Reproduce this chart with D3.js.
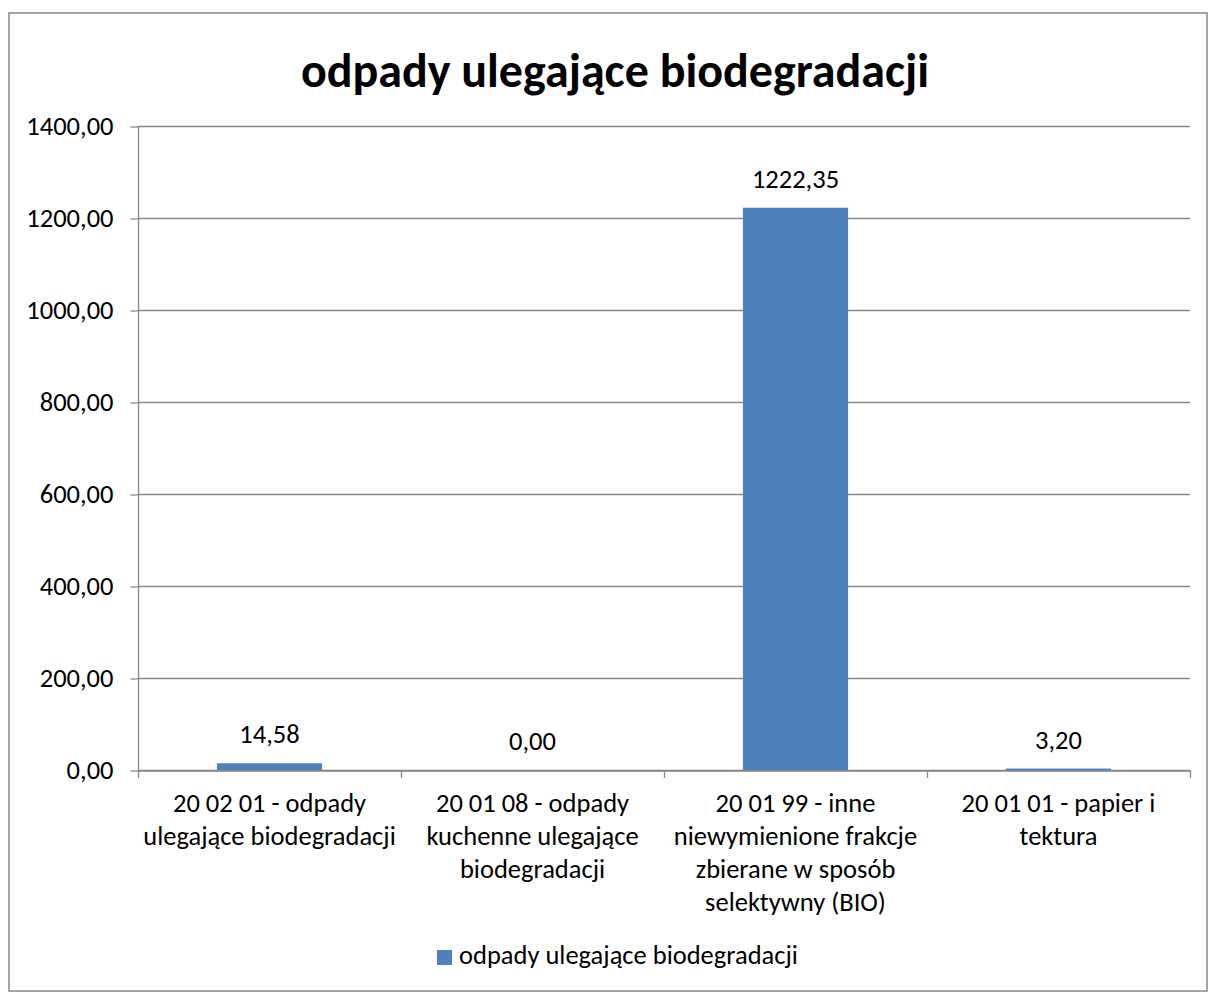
<!DOCTYPE html>
<html>
<head>
<meta charset="utf-8">
<script src="https://cdn.jsdelivr.net/npm/d3@7"></script>
<style>
  html, body { margin: 0; padding: 0; background: #fff; }
  svg { display: block; font-family: Carlito, Calibri, Lato, sans-serif; }
</style>
</head>
<body>
<svg id="chart"></svg>
<script>
/* ---- data ---- */
const title = "odpady ulegające biodegradacji";
const seriesName = "odpady ulegające biodegradacji";
const categories = [
  "20 02 01 - odpady ulegające biodegradacji",
  "20 01 08 - odpady kuchenne ulegające biodegradacji",
  "20 01 99 - inne niewymienione frakcje zbierane w sposób selektywny (BIO)",
  "20 01 01 - papier i tektura"
];
const categoryLines = [
  ["20 02 01 - odpady", "ulegające biodegradacji"],
  ["20 01 08 - odpady", "kuchenne ulegające", "biodegradacji"],
  ["20 01 99 - inne", "niewymienione frakcje", "zbierane w sposób", "selektywny (BIO)"],
  ["20 01 01 - papier i", "tektura"]
];
const values = [14.58, 0.00, 1222.35, 3.20];
const yTicks = [0, 200, 400, 600, 800, 1000, 1200, 1400];

const W = 1208, H = 992;
const margin = { top: 126, right: 18, bottom: 222, left: 138 };
const barColor = "#4F81BD";
const lineColor = "#878787";
const fontSize = 26.5;
const fmt = v => v.toFixed(2).replace(".", ",");

const svg = d3.select("#chart").attr("width", W).attr("height", H);

// outer frame
svg.append("rect")
  .attr("x", 9).attr("y", 13)
  .attr("width", W - 9 - 1).attr("height", H - 13 - 1)
  .attr("fill", "#fff")
  .attr("stroke", lineColor).attr("stroke-width", 1.5);

const x = d3.scaleBand()
  .domain(categories)
  .range([margin.left, W - margin.right])
  .padding(0);

const y = d3.scaleLinear()
  .domain([0, 1400])
  .range([H - margin.bottom, margin.top]);

// title
svg.append("text")
  .attr("x", 615)
  .attr("y", 87)
  .attr("text-anchor", "middle")
  .attr("font-weight", "bold")
  .attr("font-size", 48)
  .attr("fill", "#000")
  .text(title);

// gridlines
svg.append("g")
  .attr("class", "grid")
  .selectAll("line")
  .data(yTicks)
  .join("line")
  .attr("x1", margin.left).attr("x2", W - margin.right)
  .attr("y1", d => Math.round(y(d)) + 0.5).attr("y2", d => Math.round(y(d)) + 0.5)
  .attr("stroke", lineColor).attr("stroke-width", 1.3);

// y axis
const gy = svg.append("g")
  .attr("transform", `translate(${margin.left + 0.5},0.5)`)
  .call(d3.axisLeft(y).tickValues(yTicks).tickSize(8).tickFormat(fmt));
gy.select(".domain").attr("stroke", lineColor).attr("stroke-width", 1.3).attr("d", `M0,${y(1400)}V${y(0)}`);
gy.selectAll(".tick line").attr("stroke", lineColor).attr("stroke-width", 1.3);
gy.selectAll(".tick text")
  .attr("x", -25)
  .attr("font-size", fontSize)
  .attr("font-family", "Carlito, Calibri, Lato, sans-serif")
  .attr("fill", "#000");

// x axis
const gx = svg.append("g")
  .attr("transform", `translate(0,${Math.round(y(0)) + 0.5})`)
  .call(d3.axisBottom(x).tickSize(0).tickFormat(""));
gx.select(".domain").attr("stroke", lineColor).attr("stroke-width", 1.3);
gx.selectAll(".tick").remove();

// category separators
const edges = categories.map(c => x(c)).concat([x(categories[categories.length - 1]) + x.bandwidth()]);
svg.append("g")
  .selectAll("line")
  .data(edges)
  .join("line")
  .attr("x1", d => Math.round(d) + 0.5).attr("x2", d => Math.round(d) + 0.5)
  .attr("y1", y(0)).attr("y2", y(0) + 8)
  .attr("stroke", lineColor).attr("stroke-width", 1.3);

// category labels
const catG = svg.append("g")
  .selectAll("text")
  .data(categories)
  .join("text")
  .attr("text-anchor", "middle")
  .attr("font-size", fontSize)
  .attr("fill", "#000")
  .attr("transform", d => `translate(${x(d) + x.bandwidth() / 2},${y(0) + 42})`);
catG.selectAll("tspan")
  .data((d, i) => categoryLines[i])
  .join("tspan")
  .attr("x", 0)
  .attr("dy", (d, i) => i === 0 ? 0 : 33)
  .text(d => d);

// bars
const barW = x.bandwidth() * 0.4;
svg.append("g")
  .selectAll("rect")
  .data(values)
  .join("rect")
  .attr("x", (d, i) => x(categories[i]) + (x.bandwidth() - barW) / 2)
  .attr("y", d => y(d))
  .attr("width", barW)
  .attr("height", d => y(0) - y(d))
  .attr("fill", barColor);

// value labels
svg.append("g")
  .selectAll("text")
  .data(values)
  .join("text")
  .attr("x", (d, i) => x(categories[i]) + x.bandwidth() / 2)
  .attr("y", d => y(d) - 20)
  .attr("text-anchor", "middle")
  .attr("font-size", fontSize)
  .attr("fill", "#000")
  .text(fmt);

// legend
const legend = svg.append("g").attr("transform", "translate(437,950)");
legend.append("rect")
  .attr("width", 15).attr("height", 15)
  .attr("fill", barColor);
legend.append("text")
  .attr("x", 22).attr("y", 14)
  .attr("font-size", fontSize)
  .attr("fill", "#000")
  .text(seriesName);
</script>
</body>
</html>
